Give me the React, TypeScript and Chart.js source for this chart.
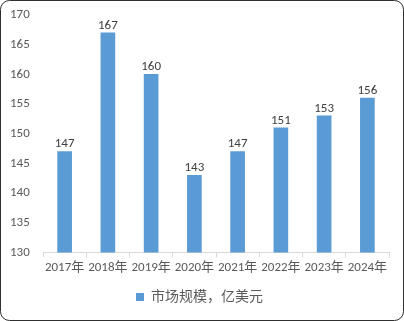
import React, { useEffect, useRef } from "react";
import { Chart, registerables } from "chart.js";

Chart.register(...registerables);

const categories = ["2017年", "2018年", "2019年", "2020年", "2021年", "2022年", "2023年", "2024年"];
const marketSize = [147, 167, 160, 143, 147, 151, 153, 156];
const seriesName = "市场规模，亿美元";
const yMin = 130;
const yMax = 170;
const yStep = 5;

const FONT = "Calibri, Lato, 'Noto Sans CJK SC', sans-serif";

const borderPlugin = {
  id: "outerBorder",
  afterDraw(chart: any) {
    const { ctx, width, height } = chart;
    ctx.save();
    ctx.strokeStyle = "#303030";
    ctx.lineWidth = 1;
    ctx.beginPath();
    (ctx as any).roundRect(0.5, 0.5, width - 1, height - 1, 9);
    ctx.stroke();
    ctx.restore();
  },
};

const labelPlugin = {
  id: "barLabels",
  afterDatasetsDraw(chart: any) {
    const { ctx } = chart;
    ctx.save();
    ctx.font = `13px ${FONT}`;
    ctx.fillStyle = "#404040";
    ctx.textAlign = "center";
    ctx.textBaseline = "bottom";
    chart.data.datasets.forEach((ds: any, i: number) => {
      const meta = chart.getDatasetMeta(i);
      meta.data.forEach((el: any, j: number) => {
        ctx.fillText(String(ds.data[j]), el.x, el.y - 1);
      });
    });
    ctx.restore();
  },
};

export default function App() {
  const ref = useRef<HTMLCanvasElement>(null);
  useEffect(() => {
    document.body.style.margin = "0";
    const chart = new Chart(ref.current!, {
      type: "bar",
      data: {
        labels: categories,
        datasets: [
          {
            label: seriesName,
            data: marketSize,
            backgroundColor: "#5B9BD5",
            barThickness: 14,
          },
        ],
      },
      options: {
        animation: false,
        responsive: false,
        maintainAspectRatio: false,
        layout: { padding: { left: 10, right: 15, top: 15, bottom: 7 } },
        plugins: {
          legend: {
            position: "bottom",
            labels: {
              boxWidth: 8,
              boxHeight: 8,
              color: "#595959",
              font: { family: FONT, size: 14 },
              padding: 11,
            },
          },
          tooltip: { enabled: false },
        },
        scales: {
          x: {
            grid: {
              display: true,
              drawOnChartArea: false,
              drawTicks: true,
              tickLength: 5,
              color: "#D9D9D9",
              offset: true,
            },
            border: { display: true, color: "#D9D9D9" },
            ticks: {
              color: "#595959",
              font: { family: FONT, size: 13 },
              maxRotation: 0,
              autoSkip: false,
              padding: 3,
            },
          },
          y: {
            min: yMin,
            max: yMax,
            grid: { display: false },
            border: { display: false },
            afterFit: (scale: any) => {
              scale.width = 33;
              scale.paddingTop = 0;
            },
            ticks: {
              stepSize: yStep,
              color: "#595959",
              font: { family: FONT, size: 13 },
              crossAlign: "far",
              padding: 12,
            },
          },
        },
      },
      plugins: [labelPlugin, borderPlugin],
    });
    return () => chart.destroy();
  }, []);
  return <canvas ref={ref} width={404} height={321} style={{ display: "block" }} />;
}
